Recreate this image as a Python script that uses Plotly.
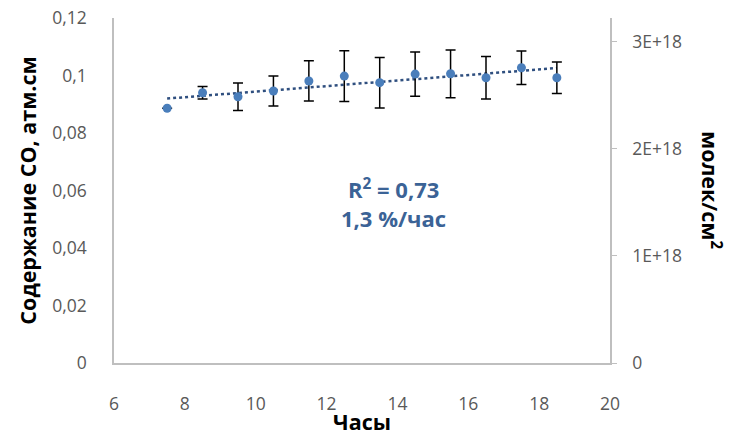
import numpy as np
import plotly.graph_objects as go

hours = [7.5, 8.5, 9.5, 10.5, 11.5, 12.5, 13.5, 14.5, 15.5, 16.5, 17.5, 18.5]
co = [0.0886, 0.0940, 0.0926, 0.0946, 0.0981, 0.0998, 0.0975, 0.1005, 0.1006, 0.0992, 0.1027, 0.0992]
err = [0.0, 0.0022, 0.0048, 0.0052, 0.0070, 0.0088, 0.0088, 0.0077, 0.0083, 0.0074, 0.0058, 0.0055]

x_ticks = [6, 8, 10, 12, 14, 16, 18, 20]
y_ticks = [0, 0.02, 0.04, 0.06, 0.08, 0.1, 0.12]
y_ticktext = ["0", "0,02", "0,04", "0,06", "0,08", "0,1", "0,12"]
y2_ticks = [0, 1e18, 2e18, 3e18]
y2_ticktext = ["0", "1E+18", "2E+18", "3E+18"]

slope, intercept = np.polyfit(hours, co, 1)
trend_x = [hours[0], hours[-1]]
trend_y = [slope * v + intercept for v in trend_x]

FONT = "'Open Sans', sans-serif"
TICK = dict(size=17.5, color="#595959", family=FONT)
TITLE = dict(size=21.5, color="black", family=FONT)

fig = go.Figure()
fig.add_trace(go.Scatter(
    x=trend_x, y=trend_y, mode="lines",
    line=dict(color="#2f4f7f", width=2.5, dash="dot"), showlegend=False))
fig.add_trace(go.Scatter(
    x=hours, y=co, mode="markers",
    marker=dict(color="#4a7ebb", size=9),
    error_y=dict(type="data", array=err, color="black", thickness=1.5, width=5),
    showlegend=False))
fig.add_trace(go.Scatter(x=[6], y=[0], yaxis="y2", mode="markers",
                         marker=dict(opacity=0), showlegend=False, hoverinfo="skip"))

axis_line = "#bfbfbf"
fig.update_layout(
    width=729, height=436,
    margin=dict(l=114, r=119, t=18, b=73, autoexpand=False),
    plot_bgcolor="white", paper_bgcolor="white",
    font=dict(family=FONT, color="#595959", size=17),
    xaxis=dict(range=[6, 20], tickvals=x_ticks, showgrid=False, zeroline=False,
               showline=True, linecolor=axis_line, linewidth=1.5, ticks="",
               ticklabelstandoff=24, tickfont=TICK, automargin=False,
               title=dict(text="<b>Часы</b>", font=TITLE, standoff=3)),
    yaxis=dict(range=[0, 0.12], tickvals=y_ticks, ticktext=y_ticktext, showgrid=False,
               zeroline=False, showline=True, linecolor=axis_line, linewidth=1.5, ticks="",
               ticklabelstandoff=22, tickfont=TICK, automargin=False,
               title=dict(text="<b>Содержание СО, атм.см</b>", font=TITLE, standoff=10)),
    yaxis2=dict(range=[0, 3.224e18], overlaying="y", side="right", tickvals=y2_ticks,
                ticktext=y2_ticktext, showgrid=False, zeroline=False, showline=True,
                linecolor=axis_line, linewidth=1.5, ticks="outside", ticklen=5,
                tickcolor=axis_line, ticklabelstandoff=12, tickfont=TICK, automargin=False),
    annotations=[
        dict(x=13.9, y=0.0608, xref="x", yref="y", text="<b>R<sup>2</sup> = 0,73</b>",
             showarrow=False, font=dict(size=22, color="#3b6396", family=FONT)),
        dict(x=13.9, y=0.0503, xref="x", yref="y", text="<b>1,3 %/час</b>",
             showarrow=False, font=dict(size=22, color="#3b6396", family=FONT)),
        dict(x=(712 - 114) / (729 - 233), y=(363 - 190) / (363 - 18), xref="paper", yref="paper",
             xanchor="center", yanchor="middle",
             text="<b>молек/см<sup>2</sup></b>", textangle=90, showarrow=False, font=TITLE),
    ],
)
fig.write_html("out.html")
